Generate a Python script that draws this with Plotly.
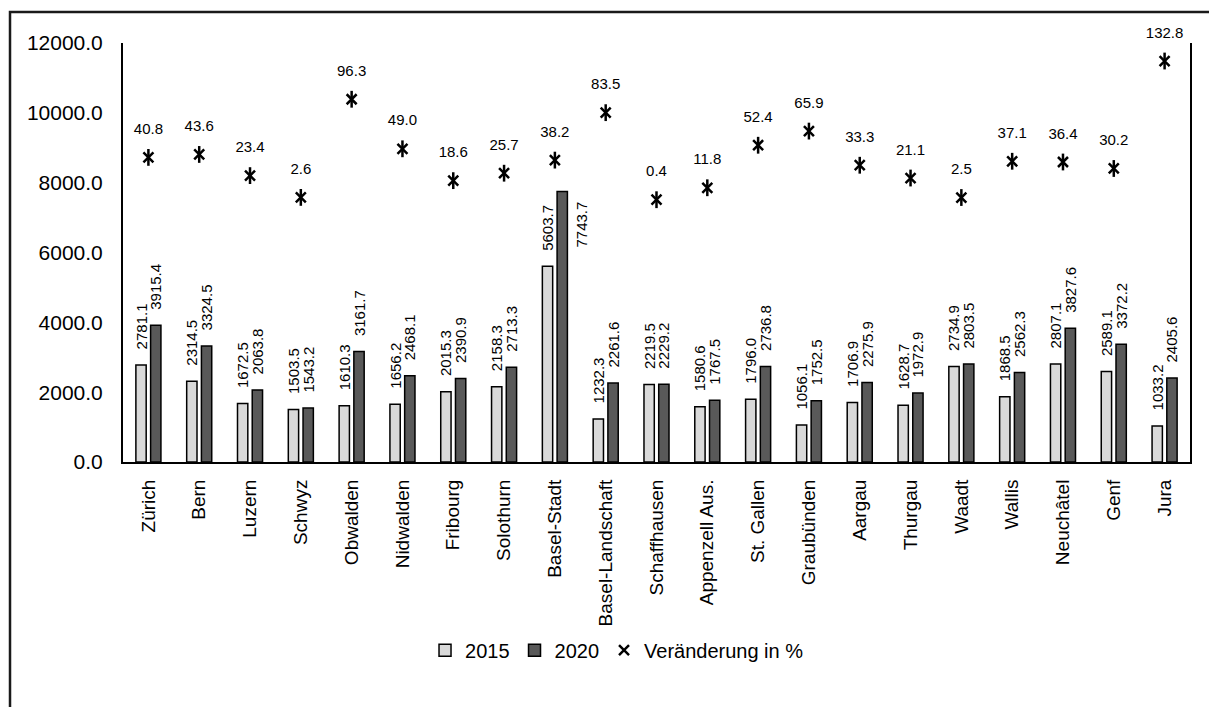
import plotly.graph_objects as go

# Kantone
kantone = ["Zürich", "Bern", "Luzern", "Schwyz", "Obwalden", "Nidwalden", "Fribourg",
           "Solothurn", "Basel-Stadt", "Basel-Landschaft", "Schaffhausen", "Appenzell Aus.",
           "St. Gallen", "Graubünden", "Aargau", "Thurgau", "Waadt", "Wallis",
           "Neuchâtel", "Genf", "Jura"]

werte_2015 = [2781.1, 2314.5, 1672.5, 1503.5, 1610.3, 1656.2, 2015.3, 2158.3, 5603.7,
              1232.3, 2219.5, 1580.6, 1796.0, 1056.1, 1706.9, 1628.7, 2734.9, 1868.5,
              2807.1, 2589.1, 1033.2]

werte_2020 = [3915.4, 3324.5, 2063.8, 1543.2, 3161.7, 2468.1, 2390.9, 2713.3, 7743.7,
              2261.6, 2229.2, 1767.5, 2736.8, 1752.5, 2275.9, 1972.9, 2803.5, 2562.3,
              3827.6, 3372.2, 2405.6]

veraenderung = [40.8, 43.6, 23.4, 2.6, 96.3, 49.0, 18.6, 25.7, 38.2, 83.5, 0.4, 11.8,
                52.4, 65.9, 33.3, 21.1, 2.5, 37.1, 36.4, 30.2, 132.8]

y_ticks = [0, 2000, 4000, 6000, 8000, 10000, 12000]

FONT = "Liberation Sans, Arial, sans-serif"
NB = "\u00a0"
LABEL_TMPL = NB * 3 + "%{y:.1f}"

# Basel-Stadt 2020: Beschriftung seitlich neben dem Balken statt darüber
seitlich = kantone.index("Basel-Stadt")
tmpl_2020 = ["" if i == seitlich else LABEL_TMPL for i in range(len(kantone))]

fig = go.Figure()

bar_common = dict(
    textposition="outside",
    textangle=-90,
    textfont=dict(size=15, color="black", family=FONT),
    constraintext="none",
    cliponaxis=False,
    marker_line=dict(color="black", width=1.5),
)

fig.add_trace(go.Bar(x=kantone, y=werte_2015, name="2015", texttemplate=LABEL_TMPL,
                     marker_color="#d9d9d9", **bar_common))
fig.add_trace(go.Bar(x=kantone, y=werte_2020, name="2020", texttemplate=tmpl_2020,
                     marker_color="#595959", **bar_common))

# Veränderung: Stern aus X und senkrechtem Strich
fig.add_trace(go.Scatter(
    x=kantone, y=veraenderung, yaxis="y2", mode="markers",
    name="Veränderung in %",
    marker=dict(symbol="x-thin-open", size=10, color="black",
                line=dict(color="black", width=2.5)),
    cliponaxis=False,
))
fig.add_trace(go.Scatter(
    x=kantone, y=veraenderung, yaxis="y2", mode="markers",
    showlegend=False, hoverinfo="skip",
    marker=dict(symbol="line-ns-open", size=12, color="black",
                line=dict(color="black", width=2.5)),
    cliponaxis=False,
))
# Beschriftung der Veränderung
fig.add_trace(go.Scatter(
    x=kantone, y=veraenderung, yaxis="y2", mode="markers+text",
    showlegend=False, hoverinfo="skip",
    text=[f"{v:.1f}" for v in veraenderung],
    textposition="top center",
    textfont=dict(size=15, color="black", family=FONT),
    marker=dict(size=30, color="rgba(0,0,0,0)"),
    cliponaxis=False,
))

fig.add_annotation(
    x=kantone[seitlich], y=werte_2020[seitlich], xref="x", yref="y",
    text=f"{werte_2020[seitlich]:.1f}", textangle=-90, showarrow=False,
    xanchor="center", yanchor="top", xshift=27, yshift=-8,
    font=dict(size=15, color="black", family=FONT),
)

fig.update_layout(
    width=1209, height=707,
    margin=dict(l=123, r=19, t=43, b=245),
    paper_bgcolor="white", plot_bgcolor="white",
    font=dict(family=FONT, color="black", size=20),
    barmode="group", bargap=0.42, bargroupgap=0.3,
    showlegend=True,
    legend=dict(orientation="h", x=0.463, xanchor="center", y=-0.449, yanchor="middle",
                font=dict(size=20, family=FONT, color="black"),
                itemwidth=30, tracegroupgap=0),
    xaxis=dict(
        type="category", range=[-0.5, len(kantone) - 0.5], tickangle=-90,
        showline=True, linecolor="black", linewidth=2,
        ticks="", showgrid=False, tickfont=dict(size=19, family=FONT, color="black"),
        ticklabelstandoff=8,
    ),
    yaxis=dict(
        range=[0, 12000], tickvals=y_ticks, tickformat=".1f",
        showline=True, linecolor="black", linewidth=2, mirror=True,
        ticks="", showgrid=False, zeroline=False,
        tickfont=dict(size=21, family=FONT, color="black"),
        ticklabelstandoff=14,
    ),
    yaxis2=dict(
        range=[-250, 150], overlaying="y", side="right", visible=False,
        showgrid=False, zeroline=False,
    ),
    shapes=[dict(
        type="rect", xref="paper", yref="paper",
        x0=-0.1059, x1=1.2, y0=-0.7, y1=1.074,
        line=dict(color="#1a1a1a", width=2.5), fillcolor="rgba(0,0,0,0)", layer="above",
    )],
)

fig.write_html("out.html")
